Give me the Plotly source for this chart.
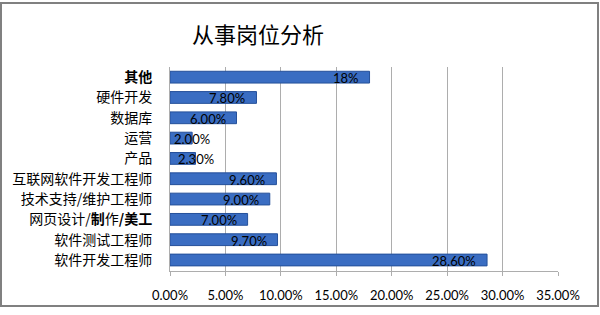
import plotly.graph_objects as go

categories = ["软件开发工程师", "软件测试工程师", "网页设计/<b>制</b>作<b>/美工</b>", "技术支持/维护工程师",
              "互联网软件开发工程师", "产品", "运营", "数据库", "硬件开发", "<b>其他</b>"]
values = [0.286, 0.097, 0.070, 0.090, 0.096, 0.023, 0.020, 0.060, 0.078, 0.18]
value_labels = ["28.60%", "9.70%", "7.00%", "9.00%", "9.60%", "2.30%", "2.00%", "6.00%", "7.80%", "18%"]
tick_vals = [0, 0.05, 0.10, 0.15, 0.20, 0.25, 0.30, 0.35]
tick_text = ["0.00%", "5.00%", "10.00%", "15.00%", "20.00%", "25.00%", "30.00%", "35.00%"]

W, H = 600, 315
ML, MR, MT, MB = 170, 42, 67, 38
XMAX = 0.35
plot_w = W - ML - MR
plot_h = H - MT - MB

fig = go.Figure()
fig.add_trace(go.Bar(
    x=values, y=categories, orientation="h",
    marker=dict(color="#3A6DC2", line=dict(color="#25509A", width=1)),
    width=0.58, hoverinfo="skip",
))

label_font = dict(size=13, color="black", family="Lato, Open Sans, sans-serif")
annotations = []
for v, lab, cat in zip(values, value_labels, categories):
    px_len = v / XMAX * plot_w
    if px_len < 40:
        annotations.append(dict(x=v, y=cat, xref="x", yref="y", text=lab, showarrow=False,
                                xanchor="center", yshift=-1, font=label_font))
    else:
        annotations.append(dict(x=v, y=cat, xref="x", yref="y", text=lab, showarrow=False,
                                xanchor="right", xshift=-9, yshift=-1, font=label_font))

annotations.append(dict(x=(258 - ML) / plot_w, y=(H - 32 - MB) / plot_h, xref="paper", yref="paper",
                        text="从事岗位分析", showarrow=False, xanchor="center", yanchor="middle",
                        font=dict(size=22, color="black", family="Noto Sans CJK SC")))
fig.update_layout(annotations=annotations)

# outer frame
fig.add_shape(type="rect", xref="paper", yref="paper",
              x0=(1 - ML) / plot_w, x1=(598 - ML) / plot_w,
              y0=(H - 313 - MB) / plot_h, y1=(H - 1 - MB) / plot_h,
              line=dict(color="#808080", width=2), fillcolor="rgba(0,0,0,0)", layer="above")

fig.update_layout(
    width=W, height=H,
    margin=dict(l=ML, r=MR, t=MT, b=MB, pad=0),
    paper_bgcolor="white", plot_bgcolor="white",
    showlegend=False,
    font=dict(family="Noto Sans CJK SC", size=13, color="black"),
    bargap=0.42,
    xaxis=dict(range=[0, XMAX], tickvals=tick_vals, ticktext=tick_text,
               showgrid=True, gridcolor="#ADADAD", gridwidth=1,
               zeroline=False, showline=True, linecolor="#ADADAD",
               ticks="outside", ticklen=4, tickcolor="#ADADAD",
               ticklabelstandoff=8,
               tickfont=dict(family="Lato, Open Sans, sans-serif", size=13, color="black"),
               fixedrange=True),
    yaxis=dict(showgrid=False, showline=True, linecolor="#ADADAD", zeroline=False,
               ticks="", ticklabelstandoff=14,
               tickfont=dict(family="Noto Sans CJK SC", size=14, color="black"),
               fixedrange=True),
)

fig.write_html("out.html")
